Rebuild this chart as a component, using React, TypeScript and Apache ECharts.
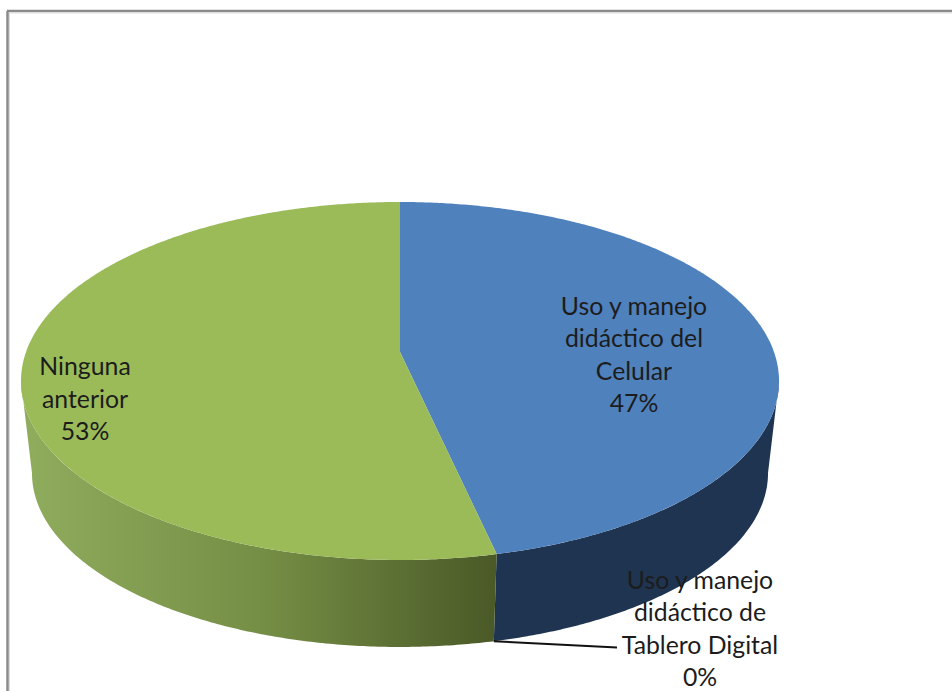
import React, { useEffect, useRef } from "react";
import * as echarts from "echarts";

const categories = ["Uso y manejo didáctico del Celular", "Uso y manejo didáctico de Tablero Digital", "Ninguna anterior"];
const values = [46.51, 0, 53.49];
const labelLines = [
  ["Uso y manejo", "didáctico del", "Celular"],
  ["Uso y manejo", "didáctico de", "Tablero Digital"],
  ["Ninguna", "anterior"],
];
const labelCentres = [[634, 354], [700, 628], [85, 398]];
const topColours = ["#4f81bd", "#c0504d", "#9bbb59"];
const sideStops = [
  [[0, "#243c5c"], [1, "#1f3450"]],
  [[0, "#8c2f2c"], [1, "#8c2f2c"]],
  [[0, "#8fab5c"], [0.5, "#758e45"], [1, "#4a5927"]],
];
const sideRanges = [[21, 497], [21, 497], [30, 497]];

const CX = 400, APEX_Y = 352, APEX_Y_LOW = 445;
const A = 374, B = 174.3, K = 0.162, SCALE_LOW = 0.971;
const TOTAL = values.reduce((s, v) => s + v, 0);
const DEG = Math.PI / 180;
const SILHOUETTE_A = 99.3 * DEG;
const SILHOUETTE_B = 260.7 * DEG;

function rim(theta: number, low: boolean): number[] {
  const u = Math.sin(theta), v = -Math.cos(theta), d = 1 - K * v;
  const s = low ? SCALE_LOW : 1;
  return [CX + (s * A * u) / d, (low ? APEX_Y_LOW : APEX_Y) + (s * B * v) / d];
}
function arc(t0: number, t1: number, low: boolean): number[][] {
  const n = Math.max(2, Math.ceil(Math.abs(t1 - t0) / (0.5 * DEG)));
  const pts: number[][] = [];
  for (let i = 0; i <= n; i++) pts.push(rim(t0 + ((t1 - t0) * i) / n, low));
  return pts;
}
function startOf(i: number): number {
  let s = 0;
  for (let j = 0; j < i; j++) s += values[j];
  return (s / TOTAL) * 2 * Math.PI;
}

const sideItem = (params: any, api: any) => {
  const i = params.dataIndex;
  const v = api.value(0);
  if (!v) return { type: "group", children: [] };
  const t0 = Math.max(startOf(i), SILHOUETTE_A);
  const t1 = Math.min(startOf(i) + (v / TOTAL) * 2 * Math.PI, SILHOUETTE_B);
  const pts = [...arc(t0, t1, false), ...arc(t0, t1, true).reverse()];
  return {
    type: "polygon",
    shape: { points: pts },
    style: {
      fill: {
        type: "linear", global: true,
        x: sideRanges[i][0], y: 0, x2: sideRanges[i][1], y2: 0,
        colorStops: sideStops[i].map(([offset, color]) => ({ offset, color })),
      },
    },
  };
};

const topItem = (params: any, api: any) => {
  const i = params.dataIndex;
  const v = api.value(0);
  const pct = Math.round((v / TOTAL) * 100) + "%";
  const [lx, ly] = labelCentres[i];
  const children: any[] = [];
  if (v) {
    const t0 = startOf(i);
    const t1 = t0 + (v / TOTAL) * 2 * Math.PI;
    children.push({
      type: "polygon",
      shape: { points: [[CX, APEX_Y], ...arc(t0, t1, false)] },
      style: { fill: topColours[i] },
    });
  } else {
    children.push({
      type: "polyline",
      shape: { points: [rim(startOf(i), true), [617, 647.5]] },
      style: { stroke: "#111111", lineWidth: 2, fill: "none" },
      z2: 5,
    });
  }
  children.push({
    type: "text",
    x: lx,
    y: ly,
    z2: 10,
    style: {
      text: [...labelLines[i], pct].join("\n"),
      fill: "#1c1c1c",
      font: "24.8px Lato",
      lineHeight: 32.4,
      align: "center",
      verticalAlign: "middle",
    },
  });
  return { type: "group", children };
};

export default function App() {
  const ref = useRef<HTMLDivElement>(null);
  useEffect(() => {
    document.body.style.margin = "0";
    const chart = echarts.init(ref.current!, null, { renderer: "svg" });
    const data = values.map((v, i) => ({ name: categories[i], value: [v] }));
    chart.setOption({
      animation: false,
      backgroundColor: "#ffffff",
      graphic: [
        { type: "line", shape: { x1: 7.5, y1: 11, x2: 7.5, y2: 691 }, style: { stroke: "#8a8a8a", lineWidth: 2.5 } },
        { type: "line", shape: { x1: 7, y1: 11, x2: 952, y2: 11 }, style: { stroke: "#8a8a8a", lineWidth: 2.5 } },
        { type: "line", shape: { x1: 9.5, y1: 13, x2: 9.5, y2: 691 }, style: { stroke: "#dddddd", lineWidth: 1 } },
        { type: "line", shape: { x1: 9.5, y1: 13, x2: 952, y2: 13 }, style: { stroke: "#dddddd", lineWidth: 1 } },
      ],
      series: [
        { type: "custom", coordinateSystem: "none", silent: true, z: 1, renderItem: sideItem, data },
        { type: "custom", coordinateSystem: "none", silent: true, z: 2, renderItem: topItem, data },
      ],
    });
    return () => chart.dispose();
  }, []);
  return <div ref={ref} style={{ width: 952, height: 691 }} />;
}
